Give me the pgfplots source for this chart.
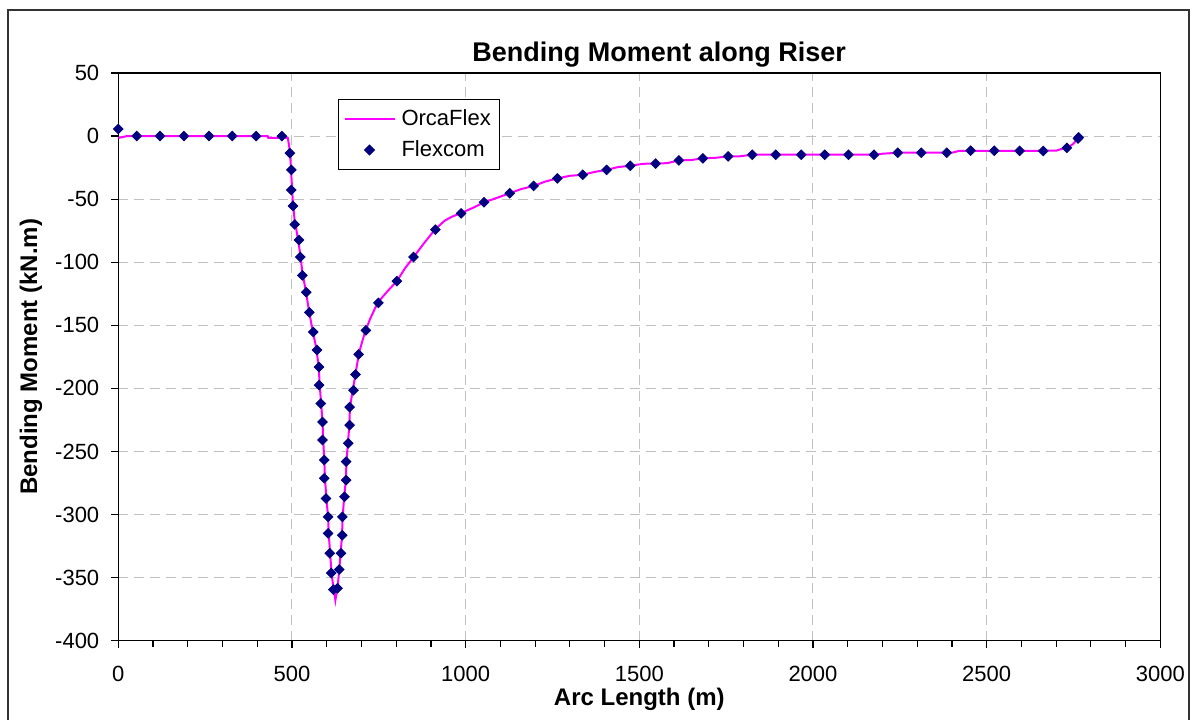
\documentclass[border=0pt]{standalone}
\usepackage{fontspec}
\setmainfont{Liberation Sans}
\usepackage{pgfplots}
\pgfplotsset{compat=1.18}
\definecolor{orca}{RGB}{255,0,255}
\definecolor{flex}{RGB}{0,0,128}
\definecolor{gridgray}{RGB}{192,192,192}
\pgfplotsset{
  linelegend/.style={legend image code/.code={\draw[##1] (0pt,0pt) -- (25pt,0pt);}},
  marklegend/.style={legend image code/.code={\draw[##1] plot coordinates {(12.5pt,0pt)};}},
}

\begin{document}
\begin{tikzpicture}
\begin{axis}[
  scale only axis, width=521pt, height=283.85pt,
  xmin=0, xmax=3000, ymin=-400, ymax=50,
  xtick={0,500,...,3000}, minor xtick={100,200,...,2900},
  ytick={-400,-350,...,50},
  xtick pos=left, ytick pos=left,
  tick align=outside, major tick length=3.5pt, minor tick length=3pt,
  tick style={black, line width=0.6pt},
  axis line style={line width=0.6pt},
  grid=major,
  major grid style={gridgray, dash pattern=on 5pt off 3pt, line width=0.5pt},
  clip=false,
  /pgf/number format/assume math mode=true,
  /pgf/number format/1000 sep={},
  ticklabel style={font=\fontsize{11}{13}\selectfont},
  xticklabel style={yshift=-5.5pt},
  yticklabel style={xshift=-2.5pt},
  title={Bending Moment along Riser},
  title style={at={(axis description cs:0.519,1.0282)}, anchor=base, yshift=-8.5pt, font=\bfseries\fontsize{13.5}{16}\selectfont},
  xlabel={Arc Length (m)},
  xlabel style={at={(axis description cs:0.5,-0.0939)}, anchor=base, yshift=-6pt, font=\bfseries\fontsize{12}{14}\selectfont},
  ylabel={Bending Moment (kN.m)},
  ylabel style={at={(axis description cs:-0.0778,0.5)}, anchor=base, font=\bfseries\fontsize{12}{14}\selectfont},
  legend cell align=left,
  legend style={at={(axis description cs:0.2108,0.9542)}, anchor=north west, draw=black, line width=0.6pt,
    font=\fontsize{11}{13}\selectfont, inner xsep=2.5pt, inner ysep=3pt, row sep=2pt,
    /tikz/every odd column/.append style={column sep=1pt}},
]
% OrcaFlex
\addplot[orca, line width=1pt, no markers, linelegend] coordinates {
(0,-1.5) (25,0) (430,0) (432,-1.5) (488,-1.5) (492,-8) (496,-20) (499,-35) (502,-50)
(507,-65) (515,-78) (523,-92) (530,-108) (540,-123) (550,-140) (560,-155) (570,-168)
(577,-183) (580,-198) (584,-212) (588,-227) (590,-241) (593,-257) (595,-271) (599,-287)
(604,-302) (606,-316) (610,-331) (614,-347) (618,-355) (622,-362) (625,-368) (628,-363)
(632,-356) (636,-344) (640,-331) (644,-317) (646,-302) (650,-287) (655,-273) (657,-258)
(661,-244) (665,-230) (667,-215) (674,-203) (679,-195) (685,-185) (693,-172) (700,-165)
(712,-154) (725,-145) (740,-136) (750,-131) (775,-123) (802,-115) (825,-105) (850,-96)
(880,-85) (912,-74) (940,-67) (960,-64) (987,-61) (1020,-57) (1053,-52.5) (1090,-49)
(1127,-45.3) (1160,-42) (1196,-39.5) (1230,-36) (1264,-33.6) (1300,-31.5) (1337,-30.7)
(1370,-28.5) (1405,-26.8) (1440,-24.5) (1474,-23.6) (1510,-22) (1547,-21.7) (1580,-21.5)
(1614,-19.3) (1650,-19) (1683,-17.6) (1720,-17.2) (1756,-16.1) (1790,-16) (1825,-14.8)
(2180,-14.8) (2200,-14) (2244,-13.2) (2400,-13.2) (2420,-11.8) (2700,-11.6) (2712,-10.5)
(2735,-9) (2750,-6) (2763,-1.5)
};
\addlegendentry{OrcaFlex}
% Flexcom
\addplot[only marks, mark=square*, mark size=1.7pt, mark options={rotate=45, draw=flex, fill=flex}, marklegend] coordinates {
(0,5.6) (53,0) (120,0) (189,0) (261,0) (328,0) (397,0) (471,0) (494,-13.5) (498,-26.8)
(498,-42.7) (503,-55.4) (508,-70) (520,-82.4) (524,-95.9) (530,-110.5) (541,-123.8)
(550,-139.7) (561,-155.3) (572,-169.6) (578,-183.1) (578,-197.4) (583,-212) (588,-226.6)
(588,-240.9) (593,-256.8) (593,-271.3) (598,-287.2) (604,-301.8) (604,-315) (609,-330.7)
(613,-346.3) (619,-359.5) (631,-358.5) (636,-343.6) (641,-330.7) (645,-316.4) (645,-301.8)
(651,-285.9) (656,-272.7) (656,-258.1) (662,-243.5) (666,-229.2) (666,-214.9) (677,-201.5)
(683,-189) (692,-173) (713,-154) (749,-132.2) (802,-115) (850,-95.9) (913,-74.2) (987,-61.3)
(1053,-52.5) (1127,-45.3) (1196,-39.5) (1264,-33.6) (1337,-30.7) (1406,-26.8) (1474,-23.6)
(1547,-21.8) (1614,-19.3) (1683,-17.6) (1756,-16.1) (1825,-14.8) (1893,-14.8) (1966,-14.8)
(2034,-14.8) (2102,-14.8) (2176,-14.8) (2244,-13.2) (2312,-13.2) (2385,-13.2) (2454,-11.6)
(2522,-11.6) (2595,-11.7) (2663,-11.9) (2731,-9.3) (2763,-2) (2765,-1)
};
\addlegendentry{Flexcom}
\end{axis}
\pgfresetboundingbox
\path[use as bounding box] ([xshift=-59.15pt,yshift=-39.65pt]current axis.south west)
  rectangle ([xshift=16.35pt,yshift=36.5pt]current axis.north east);
\draw[line width=1pt, black!80] ([xshift=-55pt,yshift=-50pt]current axis.south west)
  rectangle ([xshift=14.5pt,yshift=31.5pt]current axis.north east);
\end{tikzpicture}
\end{document}
